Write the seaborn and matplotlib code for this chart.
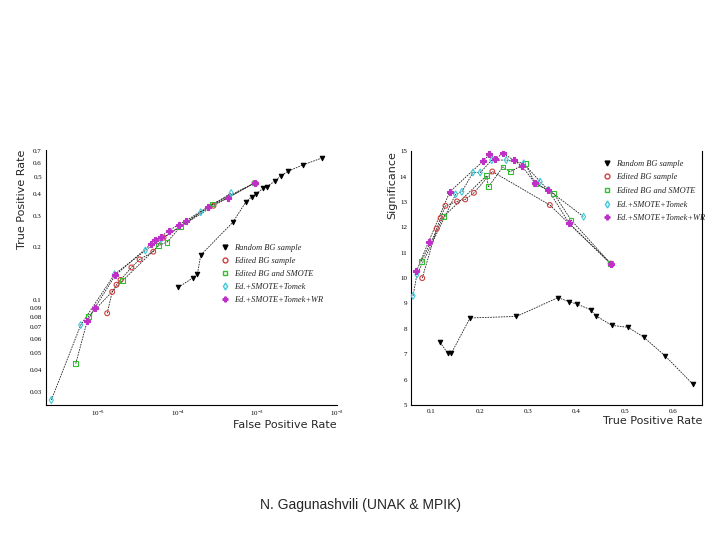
import matplotlib
matplotlib.use("Agg")
import matplotlib.pyplot as plt
import matplotlib.ticker as mticker
from matplotlib.lines import Line2D
import seaborn as sns

# -------------------------------
# Données
# -------------------------------
labels = ["Random BG sample", "Edited BG sample", "Edited BG and SMOTE",
          "Ed.+SMOTE+Tomek", "Ed.+SMOTE+Tomek+WR"]

# panneau gauche : FPR / TPR
rand_fpr = [1.01e-4, 1.57e-4, 1.76e-4, 1.94e-4, 4.9e-4, 7.2e-4, 8.5e-4, 9.7e-4,
            1.17e-3, 1.32e-3, 1.65e-3, 1.97e-3, 2.44e-3, 3.7e-3, 6.5e-3]
rand_tpr = [0.118, 0.134, 0.141, 0.180, 0.276, 0.362, 0.385, 0.401,
            0.430, 0.440, 0.473, 0.507, 0.539, 0.584, 0.641]
red_fpr = [1.29e-5, 1.49e-5, 1.69e-5, 1.9e-5, 2.6e-5, 3.3e-5, 4.9e-5, 6.6e-5, 2.8e-4, 9.2e-4]
red_tpr = [0.084, 0.111, 0.122, 0.130, 0.153, 0.170, 0.188, 0.226, 0.343, 0.462]
green_fpr = [5.2e-6, 7.5e-6, 2.03e-5, 5.75e-5, 7.3e-5, 1.08e-4, 2.73e-4, 9.2e-4]
green_tpr = [0.0435, 0.0805, 0.129, 0.204, 0.213, 0.261, 0.351, 0.462]
cyan_fpr = [2.56e-6, 6.0e-6, 1.6e-5, 3.9e-5, 6.16e-5, 1.94e-4, 4.67e-4]
cyan_tpr = [0.027, 0.072, 0.140, 0.191, 0.222, 0.315, 0.405]
purple_fpr = [7.26e-6, 9.0e-6, 1.63e-5, 4.6e-5, 5.08e-5, 6.07e-5, 7.7e-5,
              1.03e-4, 1.25e-4, 2.36e-4, 4.24e-4, 9.2e-4]
purple_tpr = [0.0758, 0.090, 0.138, 0.208, 0.218, 0.228, 0.248,
              0.268, 0.281, 0.337, 0.380, 0.462]

# panneau droit : TPR / significance
rand_sig = [7.47, 7.03, 7.03, 8.43, 8.49, 9.23, 9.07, 8.98,
            8.75, 8.52, 8.14, 8.06, 7.68, 6.93, 5.82]
red_tpr_r = [0.081, 0.111, 0.119, 0.129, 0.153, 0.170, 0.188, 0.226, 0.345, 0.471]
red_sig = [10.0, 11.95, 12.37, 12.85, 13.02, 13.10, 13.36, 14.20, 12.88, 10.57]
green_tpr_r = [0.079, 0.125, 0.214, 0.218, 0.248, 0.263, 0.294, 0.315, 0.353, 0.389, 0.471]
green_sig = [10.66, 12.42, 14.03, 13.60, 14.38, 14.19, 14.51, 13.73, 13.34, 12.29, 10.57]
cyan_tpr_r = [0.062, 0.070, 0.150, 0.163, 0.186, 0.201, 0.225, 0.255, 0.291, 0.325, 0.342, 0.415]
cyan_sig = [9.3, 10.14, 13.30, 13.40, 14.16, 14.16, 14.65, 14.65, 14.52, 13.80, 13.47, 12.42]
purple_tpr_r = [0.069, 0.094, 0.138, 0.207, 0.220, 0.232, 0.249, 0.270, 0.287,
                0.315, 0.342, 0.385, 0.471]
purple_sig = [10.27, 11.42, 13.40, 14.61, 14.87, 14.71, 14.91, 14.65, 14.42,
              13.73, 13.47, 12.16, 10.57]

# style des marqueurs : (marker, face, edge, size)
styles = [("v", "black", "black", 10),
          ("o", "none", "#d04040", 12),
          ("s", "none", "#30c030", 12),
          ("d", "none", "#40c8d8", 12),
          ("P", "#c030c8", "#c030c8", 16)]

sns.set_style("white")
plt.rcParams["font.family"] = ["DejaVu Sans"]

fig = plt.figure(figsize=(7.2, 5.4), dpi=100)
ax1 = fig.add_axes([0.064, 0.250, 0.404, 0.472])
ax2 = fig.add_axes([0.571, 0.250, 0.404, 0.470])

tick_font = {"family": "Liberation Serif", "size": 5}
leg_font = {"family": "Liberation Serif", "style": "italic", "size": 6}


def draw(ax, series):
    for (xs, ys), (m, fc, ec, s) in zip(series, styles):
        sns.lineplot(x=xs, y=ys, sort=False, estimator=None, color="#222222",
                     lw=0.6, linestyle=(0, (2, 1.2)), ax=ax)
        sns.scatterplot(x=xs, y=ys, marker=m, s=s, facecolor=fc, edgecolor=ec,
                        linewidth=0.8, ax=ax, zorder=3)


def legend(ax, anchor, spacing):
    handles = [Line2D([], [], ls="none", marker=m, markerfacecolor=fc,
                      markeredgecolor=ec, markersize=3.5)
               for m, fc, ec, s in styles]
    ax.legend(handles, labels, loc="upper left", bbox_to_anchor=anchor,
              bbox_transform=fig.transFigure, frameon=False, prop=leg_font,
              handlelength=0.8, handletextpad=0.7, labelspacing=spacing,
              borderpad=0)


# -------------------------------
# Courbe ROC (log-log)
# -------------------------------
draw(ax1, [(rand_fpr, rand_tpr), (red_fpr, red_tpr), (green_fpr, green_tpr),
           (cyan_fpr, cyan_tpr), (purple_fpr, purple_tpr)])
ax1.set_xscale("log")
ax1.set_yscale("log")
ax1.set_xlim(2.2e-6, 1e-2)
ax1.set_ylim(0.0253, 0.71)
yt = [0.03, 0.04, 0.05, 0.06, 0.07, 0.08, 0.09, 0.1, 0.2, 0.3, 0.4, 0.5, 0.6, 0.7]
ax1.yaxis.set_major_locator(mticker.FixedLocator(yt))
ax1.yaxis.set_major_formatter(mticker.FixedFormatter([f"{v:g}" for v in yt]))
ax1.yaxis.set_minor_locator(mticker.NullLocator())
ax1.xaxis.set_major_locator(mticker.LogLocator(base=10, numticks=10))
ax1.xaxis.set_minor_locator(mticker.LogLocator(base=10, subs=range(2, 10), numticks=20))
ax1.xaxis.set_minor_formatter(mticker.NullFormatter())
ax1.set_xlabel("False Positive Rate", loc="right", fontsize=8, labelpad=1)
ax1.set_ylabel("True Positive Rate", loc="top", fontsize=8, labelpad=2)
legend(ax1, (0.302, 0.556), 0.6)

# -------------------------------
# Significance vs TPR
# -------------------------------
draw(ax2, [(rand_tpr, rand_sig), (red_tpr_r, red_sig), (green_tpr_r, green_sig),
           (cyan_tpr_r, cyan_sig), (purple_tpr_r, purple_sig)])
ax2.set_xlim(0.058, 0.66)
ax2.set_ylim(5, 15)
ax2.xaxis.set_major_locator(mticker.MultipleLocator(0.1))
ax2.xaxis.set_minor_locator(mticker.MultipleLocator(0.02))
ax2.yaxis.set_major_locator(mticker.MultipleLocator(1))
ax2.yaxis.set_minor_locator(mticker.MultipleLocator(0.2))
ax2.xaxis.set_major_formatter(mticker.FuncFormatter(lambda v, p: f"{v:.1f}"))
ax2.set_xlabel("True Positive Rate", loc="right", fontsize=8, labelpad=1)
ax2.set_ylabel("Significance", loc="top", fontsize=8, labelpad=2)
legend(ax2, (0.832, 0.712), 0.68)

for ax in (ax1, ax2):
    ax.spines["top"].set_visible(False)
    for sp in ax.spines.values():
        sp.set_linewidth(0.8)
        sp.set_color("black")
    ax.tick_params(which="both", direction="in", colors="black", pad=3)
    ax.tick_params(which="major", length=4, width=0.7)
    ax.tick_params(which="minor", length=2, width=0.6)
    for t in ax.get_xticklabels() + ax.get_yticklabels():
        t.set_fontfamily(tick_font["family"])
        t.set_fontsize(tick_font["size"])
    ax.set_facecolor("white")
ax1.spines["right"].set_visible(False)
ax2.tick_params(which="both", right=False)

fig.text(0.5, 0.065, "N. Gagunashvili (UNAK & MPIK)", ha="center", va="center",
         fontsize=10, family="Liberation Sans")

fig.savefig("out.png", dpi=100, facecolor="white")
